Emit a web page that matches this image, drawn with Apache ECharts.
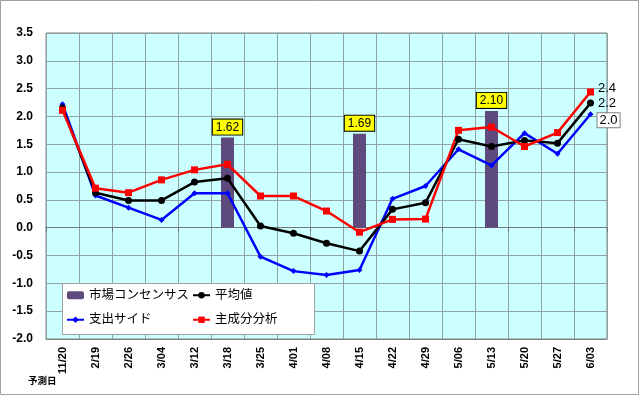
<!DOCTYPE html>
<html>
<head>
<meta charset="utf-8">
<script src="https://cdn.jsdelivr.net/npm/echarts@6/dist/echarts.min.js"></script>
<style>
  html, body { margin: 0; padding: 0; background: #fff; }
  #chart { width: 640px; height: 396px; }
</style>
</head>
<body>
<div id="chart"></div>
<script>
const dates = ['11/20', '2/19', '2/26', '3/04', '3/12', '3/18', '3/25', '4/01', '4/08',
  '4/15', '4/22', '4/29', '5/06', '5/13', '5/20', '5/27', '6/03']
const consensus = [null, null, null, null, null, 1.62, null, null, null,
  1.69, null, null, null, 2.10, null, null, null]
const average = [2.15, 0.63, 0.49, 0.49, 0.82, 0.89, 0.03, -0.10, -0.28,
  -0.42, 0.33, 0.45, 1.59, 1.46, 1.57, 1.52, 2.24]
const spending = [2.22, 0.58, 0.36, 0.14, 0.62, 0.62, -0.52, -0.78, -0.85,
  -0.76, 0.52, 0.75, 1.41, 1.12, 1.70, 1.33, 2.04]
const pca = [2.11, 0.71, 0.63, 0.86, 1.04, 1.14, 0.57, 0.57, 0.30,
  -0.08, 0.15, 0.155, 1.75, 1.81, 1.46, 1.71, 2.44]

const FONT = '"Liberation Sans", Arial, "Noto Sans CJK JP", sans-serif'
const last = dates.length - 1

// only the last point of each line gets a value label
function withEndLabel(values, offsetY, boxed) {
  return values.map((v, i) => {
    if (i !== last) return v
    const label = {
      show: true,
      position: 'right',
      distance: 4,
      offset: [0, offsetY],
      fontFamily: FONT,
      fontSize: 13,
      color: '#000',
      formatter: p => p.value.toFixed(1)
    }
    if (boxed) {
      label.backgroundColor = '#fff'
      label.borderColor = '#808080'
      label.borderWidth = 1
      label.padding = [1, 2, 0, 2]
    }
    return { value: v, label }
  })
}

const legendText = { fontSize: 12.5, color: '#000', fontFamily: FONT }

const chart = echarts.init(document.getElementById('chart'))

chart.setOption({
  animation: false,
  textStyle: { fontFamily: FONT },
  grid: {
    left: 46, right: 33, top: 33, bottom: 57,
    show: true,
    backgroundColor: '#ccffff',
    borderColor: '#808080',
    borderWidth: 1
  },
  legend: [
    {
      data: ['市場コンセンサス', '支出サイド'],
      orient: 'vertical',
      left: 61, top: 284,
      itemWidth: 17, itemHeight: 8,
      itemGap: 12,
      textStyle: legendText
    },
    {
      data: ['平均値', '主成分分析'],
      orient: 'vertical',
      left: 187, top: 284,
      itemWidth: 17, itemHeight: 8,
      itemGap: 12,
      textStyle: legendText
    }
  ],
  graphic: [
    {
      type: 'rect', z: 3,
      shape: { x: 62.5, y: 283.5, width: 252, height: 51 },
      style: { fill: '#fff', stroke: '#a0a0a0', lineWidth: 1 }
    },
    {
      type: 'rect', z: -1, silent: true,
      shape: { x: 0.5, y: 0.5, width: 638, height: 394 },
      style: { fill: 'none', stroke: '#a0a0a0', lineWidth: 1 }
    },
    {
      type: 'text', left: 28, top: 377,
      style: { text: '予測日', fontSize: 9.5, fontWeight: 'bold', fill: '#000', fontFamily: FONT }
    }
  ],
  xAxis: [
    {
      type: 'category',
      data: dates,
      boundaryGap: true,
      axisLine: { onZero: false, lineStyle: { color: '#808080' } },
      axisTick: { show: false },
      splitLine: { show: true, lineStyle: { color: '#8fa3a3', width: 1 } },
      axisLabel: {
        rotate: 90, margin: 8,
        fontSize: 11, fontWeight: 'bold', color: '#000', fontFamily: FONT
      }
    },
    {
      type: 'category',
      data: dates,
      position: 'bottom',
      boundaryGap: true,
      axisLine: { show: true, onZero: true, onZeroAxisIndex: 0, lineStyle: { color: '#707878' } },
      axisTick: { show: true, length: 4, inside: false, lineStyle: { color: '#707878' } },
      axisLabel: { show: false },
      splitLine: { show: false }
    }
  ],
  yAxis: {
    type: 'value',
    min: -2, max: 3.5, interval: 0.5,
    axisLine: { show: false },
    axisTick: { show: false },
    splitLine: { show: true, lineStyle: { color: '#8fa3a3', width: 1 } },
    axisLabel: {
      margin: 13,
      fontSize: 12, fontWeight: 'bold', color: '#000', fontFamily: FONT,
      formatter: v => v.toFixed(1)
    }
  },
  series: [
    {
      name: '市場コンセンサス',
      type: 'bar',
      data: consensus,
      barWidth: 13,
      itemStyle: { color: '#5e4a7c' },
      label: {
        show: true,
        position: 'top',
        distance: 3,
        fontSize: 12,
        color: '#000',
        fontFamily: FONT,
        backgroundColor: '#ffff00',
        borderColor: '#000',
        borderWidth: 1,
        padding: [2, 3, 1, 3],
        formatter: p => p.value.toFixed(2)
      }
    },
    {
      name: '支出サイド',
      type: 'line',
      data: withEndLabel(spending, 6, true),
      symbol: 'diamond',
      symbolSize: 6,
      lineStyle: { color: '#0000ff', width: 2.5 },
      itemStyle: { color: '#0000ff' }
    },
    {
      name: '平均値',
      type: 'line',
      data: withEndLabel(average, 0, false),
      symbol: 'circle',
      symbolSize: 7,
      lineStyle: { color: '#000', width: 2.5 },
      itemStyle: { color: '#000' }
    },
    {
      name: '主成分分析',
      type: 'line',
      data: withEndLabel(pca, -4, false),
      symbol: 'rect',
      symbolSize: 7,
      lineStyle: { color: '#ff0000', width: 2.5 },
      itemStyle: { color: '#ff0000' }
    }
  ]
})

window.addEventListener('resize', () => chart.resize())
</script>
</body>
</html>
